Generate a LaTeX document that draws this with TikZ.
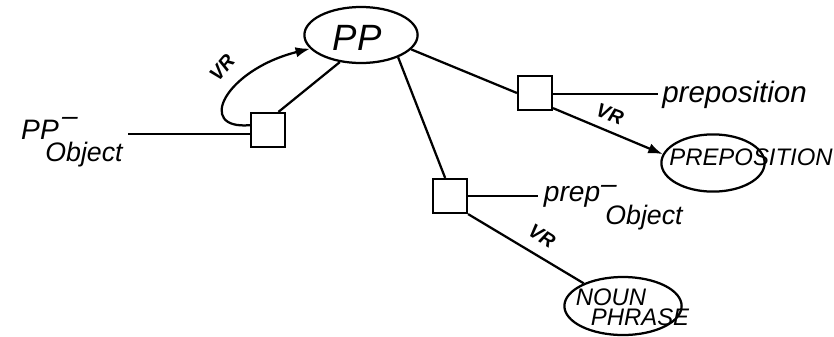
\documentclass[tikz,border=0pt]{standalone}
\usepackage{fontspec}
\setmainfont{Liberation Sans}
\usetikzlibrary{arrows.meta,shapes.geometric}
\tikzset{
  ln/.style={line width=1.6pt},
  arr/.style={line width=1.6pt,-{Latex[length=3.6mm,width=2.6mm]}},
  slot/.style={draw,line width=1.5pt,minimum size=0.85cm,inner sep=0pt},
  cls/.style={draw,ellipse,line width=1.6pt,inner sep=0pt},
  hw/.style={font=\itshape\fontsize{20}{22}\selectfont,inner sep=0pt},
  hwsub/.style={font=\itshape\fontsize{19}{20}\selectfont,inner sep=0pt},
  hwcap/.style={font=\itshape\fontsize{17}{18}\selectfont,inner sep=0pt},
  vrlbl/.style={font=\itshape\bfseries\fontsize{14}{15}\selectfont,inner sep=0pt},
}

\begin{document}
\begin{tikzpicture}[x=0.025cm,y=-0.025cm]
  \useasboundingbox (0,0) rectangle (834,336);
  % concept ellipses
  \node[cls,minimum width=2.83cm,minimum height=1.4cm] (pp) at (361,35) {};
  \node[font=\itshape\fontsize{26}{28}\selectfont] (ppT) at (357,38) {PP};
  \node[cls,minimum width=2.58cm,minimum height=1.43cm] (prepE) at (713,163) {};
  \node[hwcap] (prepT) at (751,157) {PREPOSITION};
  \node[cls,minimum width=2.93cm,minimum height=1.45cm] (npE) at (623,306) {};
  \node[hwcap] (nounT) at (611,297) {NOUN};
  \node[hwcap] (phraseT) at (640,317) {PHRASE};
  % slot boxes
  \node[slot] (b1) at (268,130) {};
  \node[slot] (b2) at (535,93) {};
  \node[slot] (b3) at (450,196) {};
  % role names
  \coordinate (e1) at (128,134);
  \coordinate (e2) at (658,94);
  \coordinate (e3) at (538,196);
  \node[hw] (ppRole) at (40,130) {PP};
  \node[hw] (ppDash) at (70,121) {--};
  \node[hwsub] (ppObj) at (84,155) {Object};
  \node[font=\itshape\fontsize{21}{23}\selectfont,inner sep=0pt,anchor=west] (prepRole) at (662,95) {preposition};
  \node[hw] (prepR) at (572,197) {prep};
  \node[hw] (prepDash) at (609,189) {--};
  \node[hwsub] (prepObj) at (644,218) {Object};
  % connectors
  \draw[ln] (b1.west |- e1) -- (e1);
  \draw[ln] (b1.60) -- (pp.-128);
  \draw[arr] (b1.165) .. controls (195,130) and (225,70) .. (pp.-165);
  \node[vrlbl,rotate=50] (vr1) at (222,68) {VR};
  \draw[ln] (pp.-16) -- (b2.west);
  \draw[ln] (b2.east |- e2) -- (e2);
  \draw[arr] (b2.-40) -- (prepE.170);
  \node[vrlbl,rotate=-20] (vr2) at (610,114) {VR};
  \draw[ln] (pp.-31) -- (b3.105);
  \draw[ln] (b3.east |- e3) -- (e3);
  \draw[ln] (b3.-45) -- (npE.150);
  \node[vrlbl,rotate=-32] (vr3) at (542,236) {VR};
\end{tikzpicture}
\end{document}
